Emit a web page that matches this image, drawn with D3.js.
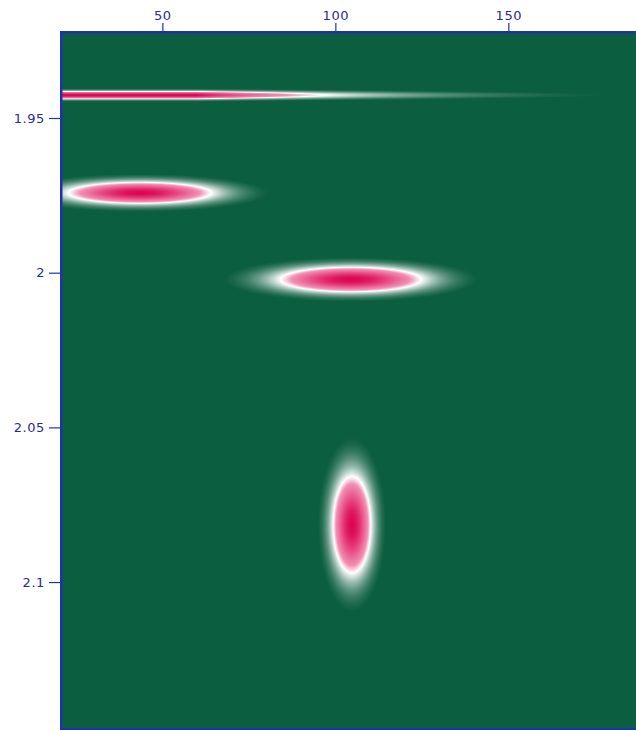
<!DOCTYPE html>
<html>
<head>
<meta charset="utf-8">
<script src="https://cdn.jsdelivr.net/npm/d3@7"></script>
<style>
  html, body { margin: 0; padding: 0; background: #ffffff; }
  svg { display: block; }
</style>
</head>
<body>
<div id="chart"></div>
<script>
// ---- data ----
const xTicks = [50, 100, 150];
const xTickLabels = ["50", "100", "150"];
const yTicks = [1.95, 2, 2.05, 2.1];
const yTickLabels = ["1.95", "2", "2.05", "2.1"];
const xDomain = [20.7, 186.9];
const yDomain = [1.9222, 2.1475];

// peaks (centres, widths, amplitudes)
const peakKind = ["tail", "gauss", "gauss", "gauss"];
const peakX = [60, 43.5, 104.5, 104.8];
const peakY = [1.9426, 1.9742, 2.0022, 2.0815];
const peakWidthX = [34, 14.0, 13.8, 3.7];
const peakWidthY = [0.0008, 0.0023, 0.0027, 0.0106];
const peakAmp = [1, 1, 1, 1];

// ---- layout ----
const W = 636, H = 731;
const mLeft = 61, mTop = 32, mBottom = 729, mRight = 636;

const svg = d3.select("#chart").append("svg").attr("width", W).attr("height", H);

const x = d3.scaleLinear().domain(xDomain).range([mLeft, mRight]);
const y = d3.scaleLinear().domain(yDomain).range([mTop, mBottom]);

const color = d3.scaleLinear()
  .domain([0.03, 0.34, 0.46, 1])
  .range(["#0c5e41", "#ffffff", "#f290b4", "#dc0652"])
  .clamp(true);

function intensity(xv, yv) {
  let s = 0;
  for (let k = 0; k < peakX.length; k++) {
    const dy = (yv - peakY[k]) / peakWidthY[k];
    const gy = Math.exp(-0.5 * dy * dy);
    let gx;
    if (peakKind[k] === "tail") {
      const dx = xv - peakX[k];
      gx = dx <= 0 ? 1 : Math.exp(-dx / peakWidthX[k]);
    } else {
      const dx = (xv - peakX[k]) / peakWidthX[k];
      gx = Math.exp(-0.5 * dx * dx);
    }
    s += peakAmp[k] * gx * gy;
  }
  return s;
}

// ---- heatmap raster ----
const cw = mRight - mLeft, ch = mBottom - mTop;
const canvas = document.createElement("canvas");
canvas.width = cw; canvas.height = ch;
const ctx = canvas.getContext("2d");
const img = ctx.createImageData(cw, ch);
for (let j = 0; j < ch; j++) {
  const yv = y.invert(mTop + j + 0.5);
  for (let i = 0; i < cw; i++) {
    const xv = x.invert(mLeft + i + 0.5);
    const c = d3.rgb(color(intensity(xv, yv)));
    const p = (j * cw + i) * 4;
    img.data[p] = c.r; img.data[p + 1] = c.g; img.data[p + 2] = c.b; img.data[p + 3] = 255;
  }
}
ctx.putImageData(img, 0, 0);

svg.append("image")
  .attr("x", mLeft).attr("y", mTop)
  .attr("width", cw).attr("height", ch)
  .attr("preserveAspectRatio", "none")
  .attr("href", canvas.toDataURL());

// ---- frame ----
const axisColor = "#1f33b0";
const textColor = "#2a2a9c";

svg.append("rect")
  .attr("x", mLeft).attr("y", mTop)
  .attr("width", mRight - mLeft + 10).attr("height", mBottom - mTop)
  .attr("fill", "none")
  .attr("stroke", axisColor)
  .attr("stroke-width", 2);

// ---- axes ----
const xAxis = svg.append("g")
  .attr("transform", `translate(0,${mTop})`)
  .call(d3.axisTop(x).tickValues(xTicks)
    .tickFormat((d, i) => xTickLabels[i])
    .tickSize(9).tickSizeOuter(0).tickPadding(3));

const yAxis = svg.append("g")
  .attr("transform", `translate(${mLeft},0)`)
  .call(d3.axisLeft(y).tickValues(yTicks)
    .tickFormat((d, i) => yTickLabels[i])
    .tickSize(12).tickSizeOuter(0).tickPadding(4));

[xAxis, yAxis].forEach(g => {
  g.select(".domain").attr("stroke", axisColor).attr("stroke-width", 2);
  g.selectAll(".tick line").attr("stroke", axisColor).attr("stroke-width", 1.2);
  g.selectAll(".tick text")
    .attr("fill", textColor)
    .style("font-family", "'DejaVu Sans', Verdana, sans-serif")
    .style("font-size", "13px")
    .style("letter-spacing", "0.6px");
});
</script>
</body>
</html>
